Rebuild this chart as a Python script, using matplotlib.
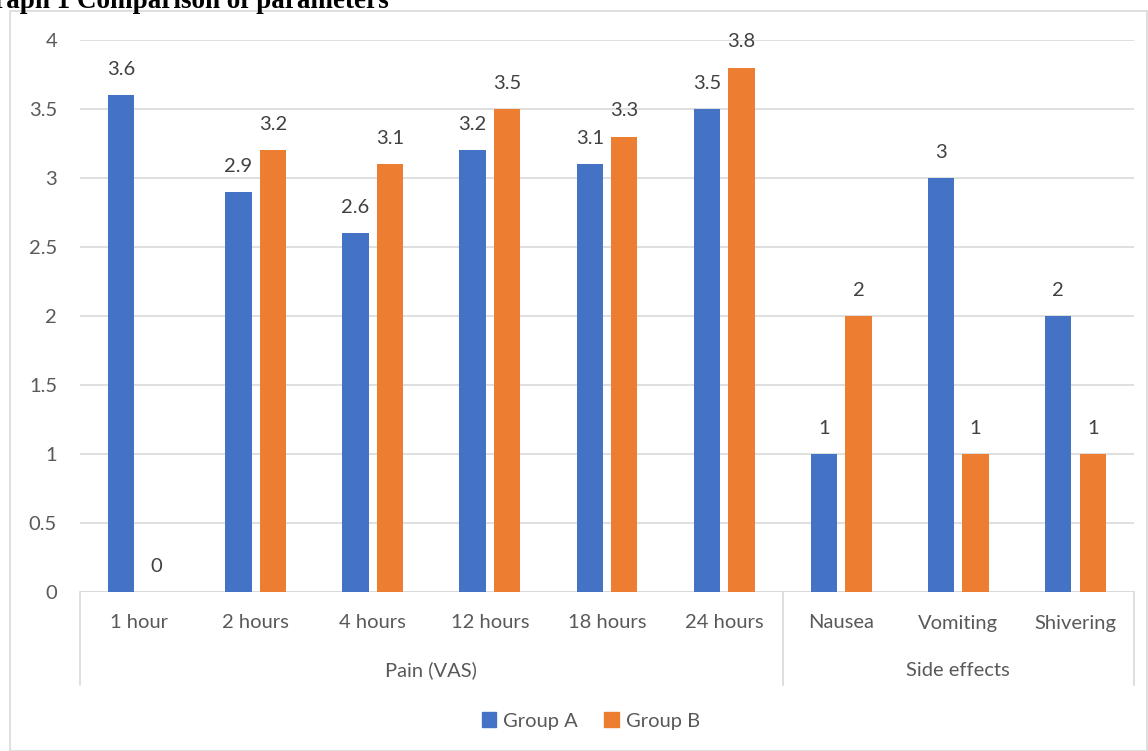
import matplotlib
matplotlib.use("Agg")
import matplotlib.pyplot as plt
from matplotlib.patches import Rectangle, Patch
import numpy as np

# データ
categories = ["1 hour", "2 hours", "4 hours", "12 hours", "18 hours", "24 hours",
              "Nausea", "Vomiting", "Shivering"]
group_a = [3.6, 2.9, 2.6, 3.2, 3.1, 3.5, 1, 3, 2]
group_b = [0, 3.2, 3.1, 3.5, 3.3, 3.8, 2, 1, 1]
groups = ["Pain (VAS)", "Side effects"]
group_sizes = [6, 3]
series_names = ["Group A", "Group B"]
y_ticks = [0, 0.5, 1, 1.5, 2, 2.5, 3, 3.5, 4]

BLUE = "#4472C4"
ORANGE = "#ED7D31"
GRID = "#D9D9D9"
TICK_COLOR = "#595959"
LABEL_COLOR = "#404040"
FONT = ["Lato", "DejaVu Sans"]
FS = 14.5

W, H = 1148, 751
plt.rcParams["font.family"] = FONT

fig = plt.figure(figsize=(W / 100, H / 100), dpi=100)
# 枠
fig.patches.append(Rectangle((10 / W, 0), (W - 11) / W, 1 - 11 / H,
                             transform=fig.transFigure, fill=False,
                             edgecolor=GRID, linewidth=1.2))

ax = fig.add_axes([80 / W, 1 - 592 / H, (1134 - 80) / W, (592 - 40) / H])
ax_h_px = 592 - 40

x = np.arange(len(categories))
bar_w = 0.225
gap = 0.07
off = (bar_w + gap) / 2
bars_a = ax.bar(x - off, group_a, bar_w, color=BLUE, zorder=3)
bars_b = ax.bar(x + off, group_b, bar_w, color=ORANGE, zorder=3)

for bars, vals in ((bars_a, group_a), (bars_b, group_b)):
    for b, v in zip(bars, vals):
        ax.annotate(f"{v:g}", (b.get_x() + b.get_width() / 2, v),
                    xytext=(0, 18.5), textcoords="offset points",
                    ha="center", va="center", fontsize=FS, color=LABEL_COLOR)

ax.set_xlim(-0.5, len(categories) - 0.5)
ax.set_ylim(0, 4)
ax.set_yticks(y_ticks)
ax.set_yticklabels([f"{t:g}" for t in y_ticks])
ax.tick_params(axis="y", length=0, pad=16.5, labelsize=FS, labelcolor=TICK_COLOR)
ax.set_xticks([])
ax.grid(axis="y", color=GRID, linewidth=1.2, zorder=0)
for s in ax.spines.values():
    s.set_visible(False)
ax.axhline(0, color=GRID, linewidth=1.2, zorder=2)

# カテゴリ・グループラベル
xt = ax.get_xaxis_transform()
for xi, c in zip(x, categories):
    ax.text(xi, -31 / ax_h_px, c, transform=xt, ha="center", va="center",
            fontsize=FS, color=TICK_COLOR)
start = 0
bounds = [-0.5]
for g, n in zip(groups, group_sizes):
    ax.text(start + (n - 1) / 2, -78 / ax_h_px, g, transform=xt, ha="center",
            va="center", fontsize=FS, color=TICK_COLOR)
    start += n
    bounds.append(start - 0.5)
for bx in bounds:
    ax.plot([bx, bx], [0, -93 / ax_h_px], transform=xt, color=GRID,
            linewidth=1.2, clip_on=False)

handles = [Patch(color=BLUE), Patch(color=ORANGE)]
fig.legend(handles, series_names, loc="center", bbox_to_anchor=(591 / W, 1 - 721 / H),
           ncol=2, frameon=False, fontsize=FS, handlelength=0.7, handleheight=0.7,
           handletextpad=0.35, columnspacing=1.3, labelcolor=TICK_COLOR)

fig.text(-27 / W, 1 - 8 / H, "Graph 1 Comparison of parameters",
         family=["Liberation Serif"], fontweight="bold", fontsize=19.5,
         ha="left", va="baseline", color="black")

fig.savefig("out.png", dpi=100)
